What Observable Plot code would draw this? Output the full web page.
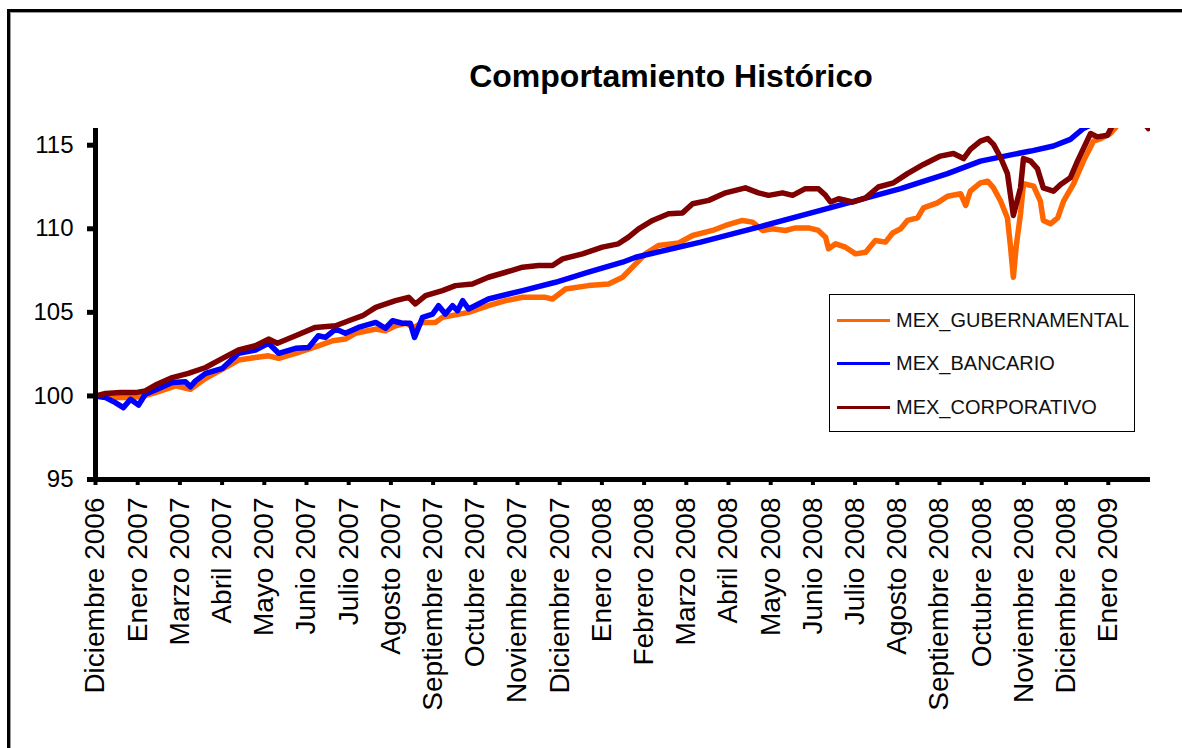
<!DOCTYPE html>
<html>
<head>
<meta charset="utf-8">
<script src="https://cdn.jsdelivr.net/npm/d3@7"></script>
<script src="https://cdn.jsdelivr.net/npm/@observablehq/plot@0.6"></script>
<style>
  html, body { margin: 0; padding: 0; background: #fff; }
  #wrap { position: relative; width: 1182px; height: 748px; overflow: hidden; background: #fff; font-family: "Liberation Sans", Arial, sans-serif; }
  #frame { position: absolute; left: 7px; top: 9px; width: 1300px; height: 900px; border-left: 3px solid #000; border-top: 3px solid #000; box-shadow: inset 1px 1px 0 #999; }
  #title { position: absolute; left: 0; top: 60px; width: 1342px; text-align: center; font-size: 32px; line-height: 32px; font-weight: bold; color: #000; }
  #chart { position: absolute; left: 0; top: 0; }
  #legend { position: absolute; left: 829px; top: 294px; width: 304px; height: 136px; border: 1px solid #000; background: #fff; }
  .row { position: absolute; left: 7px; height: 20px; display: flex; align-items: center; font-size: 20px; color: #111; }
  .sw { width: 53px; height: 3px; margin-right: 6px; }
</style>
</head>
<body>
<div id="wrap">
  <div id="chart"></div>
  <div id="frame"></div>
  <div id="title">Comportamiento Histórico</div>
  <div id="legend"></div>
</div>
<script>
// Category labels (one every fixed number of trading days)
const etiquetas = ["Diciembre 2006","Enero 2007","Marzo 2007","Abril 2007","Mayo 2007","Junio 2007","Julio 2007","Agosto 2007","Septiembre 2007","Octubre 2007","Noviembre 2007","Diciembre 2007","Enero 2008","Febrero 2008","Marzo 2008","Abril 2008","Mayo 2008","Junio 2008","Julio 2008","Agosto 2008","Septiembre 2008","Octubre 2008","Noviembre 2008","Diciembre 2008","Enero 2009"];
const yTicks = [95, 100, 105, 110, 115];

const series = ["MEX_GUBERNAMENTAL", "MEX_BANCARIO", "MEX_CORPORATIVO"];
const colores = ["#FF6600", "#0000FF", "#7F0000"];

// Position (in label units) and index values
const gubPos = [0,0.36,0.71,1.07,1.42,1.90,2.25,2.61,3.01,3.39,3.79,4.10,4.34,4.74,5.28,5.62,5.92,6.16,6.64,6.87,7.11,7.35,7.56,7.75,8.06,8.22,8.84,9.31,9.72,10.12,10.66,10.83,11.14,11.68,12.16,12.49,12.80,13.03,13.34,13.82,14.15,14.62,14.93,15.33,15.57,15.81,16.04,16.35,16.59,16.90,17.13,17.30,17.37,17.54,17.77,18.01,18.25,18.48,18.72,18.89,19.08,19.24,19.48,19.62,19.95,20.19,20.50,20.62,20.73,20.97,21.14,21.28,21.45,21.61,21.68,21.75,21.82,21.92,21.99,22.23,22.39,22.46,22.63,22.80,22.94,23.18,23.41,23.65,23.82,24.05,24.22,24.53,24.95];
const gubVal = [100.0,99.9,99.9,99.95,100.2,100.6,100.4,101.05,101.6,102.15,102.3,102.4,102.25,102.55,103.0,103.3,103.4,103.75,104.0,103.9,104.2,104.35,104.1,104.4,104.4,104.7,105.0,105.4,105.7,105.9,105.9,105.8,106.4,106.6,106.7,107.1,107.9,108.5,109.0,109.15,109.6,109.9,110.2,110.5,110.4,109.9,110.0,109.9,110.05,110.05,109.9,109.5,108.8,109.1,108.9,108.5,108.6,109.3,109.2,109.75,110.0,110.5,110.65,111.25,111.55,111.95,112.1,111.4,112.25,112.75,112.85,112.45,111.65,110.65,109.0,107.1,109.0,110.9,112.7,112.55,111.65,110.5,110.3,110.65,111.65,112.7,114.05,115.25,115.4,115.7,116.2,116.8,117.2];

const banPos = [0,0.24,0.47,0.66,0.83,1.02,1.18,1.42,1.82,2.13,2.25,2.37,2.61,3.01,3.39,3.79,4.10,4.34,4.74,5.05,5.28,5.45,5.69,5.92,6.23,6.64,6.87,7.04,7.27,7.46,7.56,7.75,7.99,8.13,8.29,8.46,8.58,8.70,8.84,9.31,10.12,10.90,11.68,12.49,12.80,14.34,15.71,17.18,19.08,20.19,20.97,21.75,22.16,22.70,23.10,23.41,23.82,24.95];
const banVal = [100.0,99.9,99.6,99.3,99.8,99.45,100.1,100.35,100.8,100.85,100.55,100.9,101.35,101.65,102.55,102.75,103.15,102.55,102.85,102.9,103.6,103.5,104.0,103.75,104.1,104.4,104.05,104.5,104.35,104.35,103.5,104.7,104.9,105.4,104.9,105.4,105.1,105.7,105.2,105.8,106.3,106.8,107.4,108.0,108.3,109.2,110.1,111.1,112.4,113.3,114.05,114.45,114.65,114.95,115.35,116.0,116.5,117.8];

const corPos = [0,0.24,0.59,0.95,1.18,1.42,1.82,2.20,2.61,3.01,3.39,3.79,4.10,4.31,4.74,5.21,5.69,6.00,6.33,6.64,7.11,7.42,7.58,7.82,8.22,8.53,8.93,9.31,9.72,10.12,10.50,10.83,11.07,11.54,12.01,12.39,12.63,12.87,13.20,13.58,13.91,14.15,14.53,14.93,15.40,15.71,15.95,16.28,16.52,16.82,17.13,17.30,17.42,17.61,17.94,18.25,18.55,18.91,19.24,19.62,20.02,20.33,20.57,20.73,20.97,21.14,21.28,21.45,21.61,21.75,21.92,21.99,22.16,22.32,22.46,22.70,22.87,23.10,23.27,23.41,23.58,23.74,23.98,24.12,24.29,24.53,24.76,24.95];
const corVal = [100.0,100.15,100.2,100.2,100.3,100.65,101.1,101.35,101.7,102.25,102.75,103.0,103.4,103.15,103.6,104.1,104.2,104.5,104.8,105.3,105.7,105.9,105.5,106.0,106.3,106.6,106.7,107.1,107.4,107.7,107.8,107.8,108.2,108.5,108.9,109.1,109.5,110.0,110.5,110.9,110.95,111.5,111.7,112.15,112.45,112.15,112.0,112.15,112.0,112.4,112.4,112.0,111.6,111.8,111.6,111.85,112.5,112.75,113.3,113.85,114.35,114.5,114.2,114.75,115.25,115.4,115.05,114.25,113.3,110.8,112.45,114.2,114.05,113.6,112.45,112.25,112.65,113.05,114.05,114.8,115.7,115.5,115.6,116.3,116.8,117.0,116.6,116.0];

const toRows = (pos, val) => pos.map((p, i) => ({p, v: val[i]}));
const datos = [toRows(gubPos, gubVal), toRows(banPos, banVal), toRows(corPos, corVal)];

const chart = Plot.plot({
  width: 1182,
  height: 748,
  marginLeft: 95,
  marginRight: 32,
  marginTop: 128,
  marginBottom: 269,
  style: {fontFamily: "'Liberation Sans', Arial, sans-serif", color: "#000", background: "transparent"},
  x: {domain: [0, 25]},
  y: {domain: [95, 116]},
  marks: [
    ...datos.map((d, i) => Plot.line(d, {x: "p", y: "v", stroke: colores[i], strokeWidth: 5.5, strokeLinejoin: "round", strokeLinecap: "round", clip: true})),
    Plot.ruleY([95], {strokeWidth: 5, stroke: "#000"}),
    Plot.ruleX([0], {strokeWidth: 5, stroke: "#000"}),
    Plot.axisY({ticks: yTicks, tickSize: 8, tickPadding: 14, fontSize: 24, strokeWidth: 5, label: null, tickFormat: d => String(d)}),
    Plot.axisX({ticks: d3.range(etiquetas.length), tickFormat: i => etiquetas[i], tickRotate: -90, textAnchor: "end", tickSize: 6, tickPadding: 12, fontSize: 28, strokeWidth: 4, label: null})
  ]
});
document.getElementById("chart").appendChild(chart);

// Legend
const legend = document.getElementById("legend");
const rowsY = [15, 58, 102];
series.forEach((s, i) => {
  const row = document.createElement("div");
  row.className = "row";
  row.style.top = rowsY[i] + "px";
  const sw = document.createElement("div");
  sw.className = "sw";
  sw.style.background = colores[i];
  const t = document.createElement("span");
  t.textContent = s;
  row.appendChild(sw);
  row.appendChild(t);
  legend.appendChild(row);
});
</script>
</body>
</html>
